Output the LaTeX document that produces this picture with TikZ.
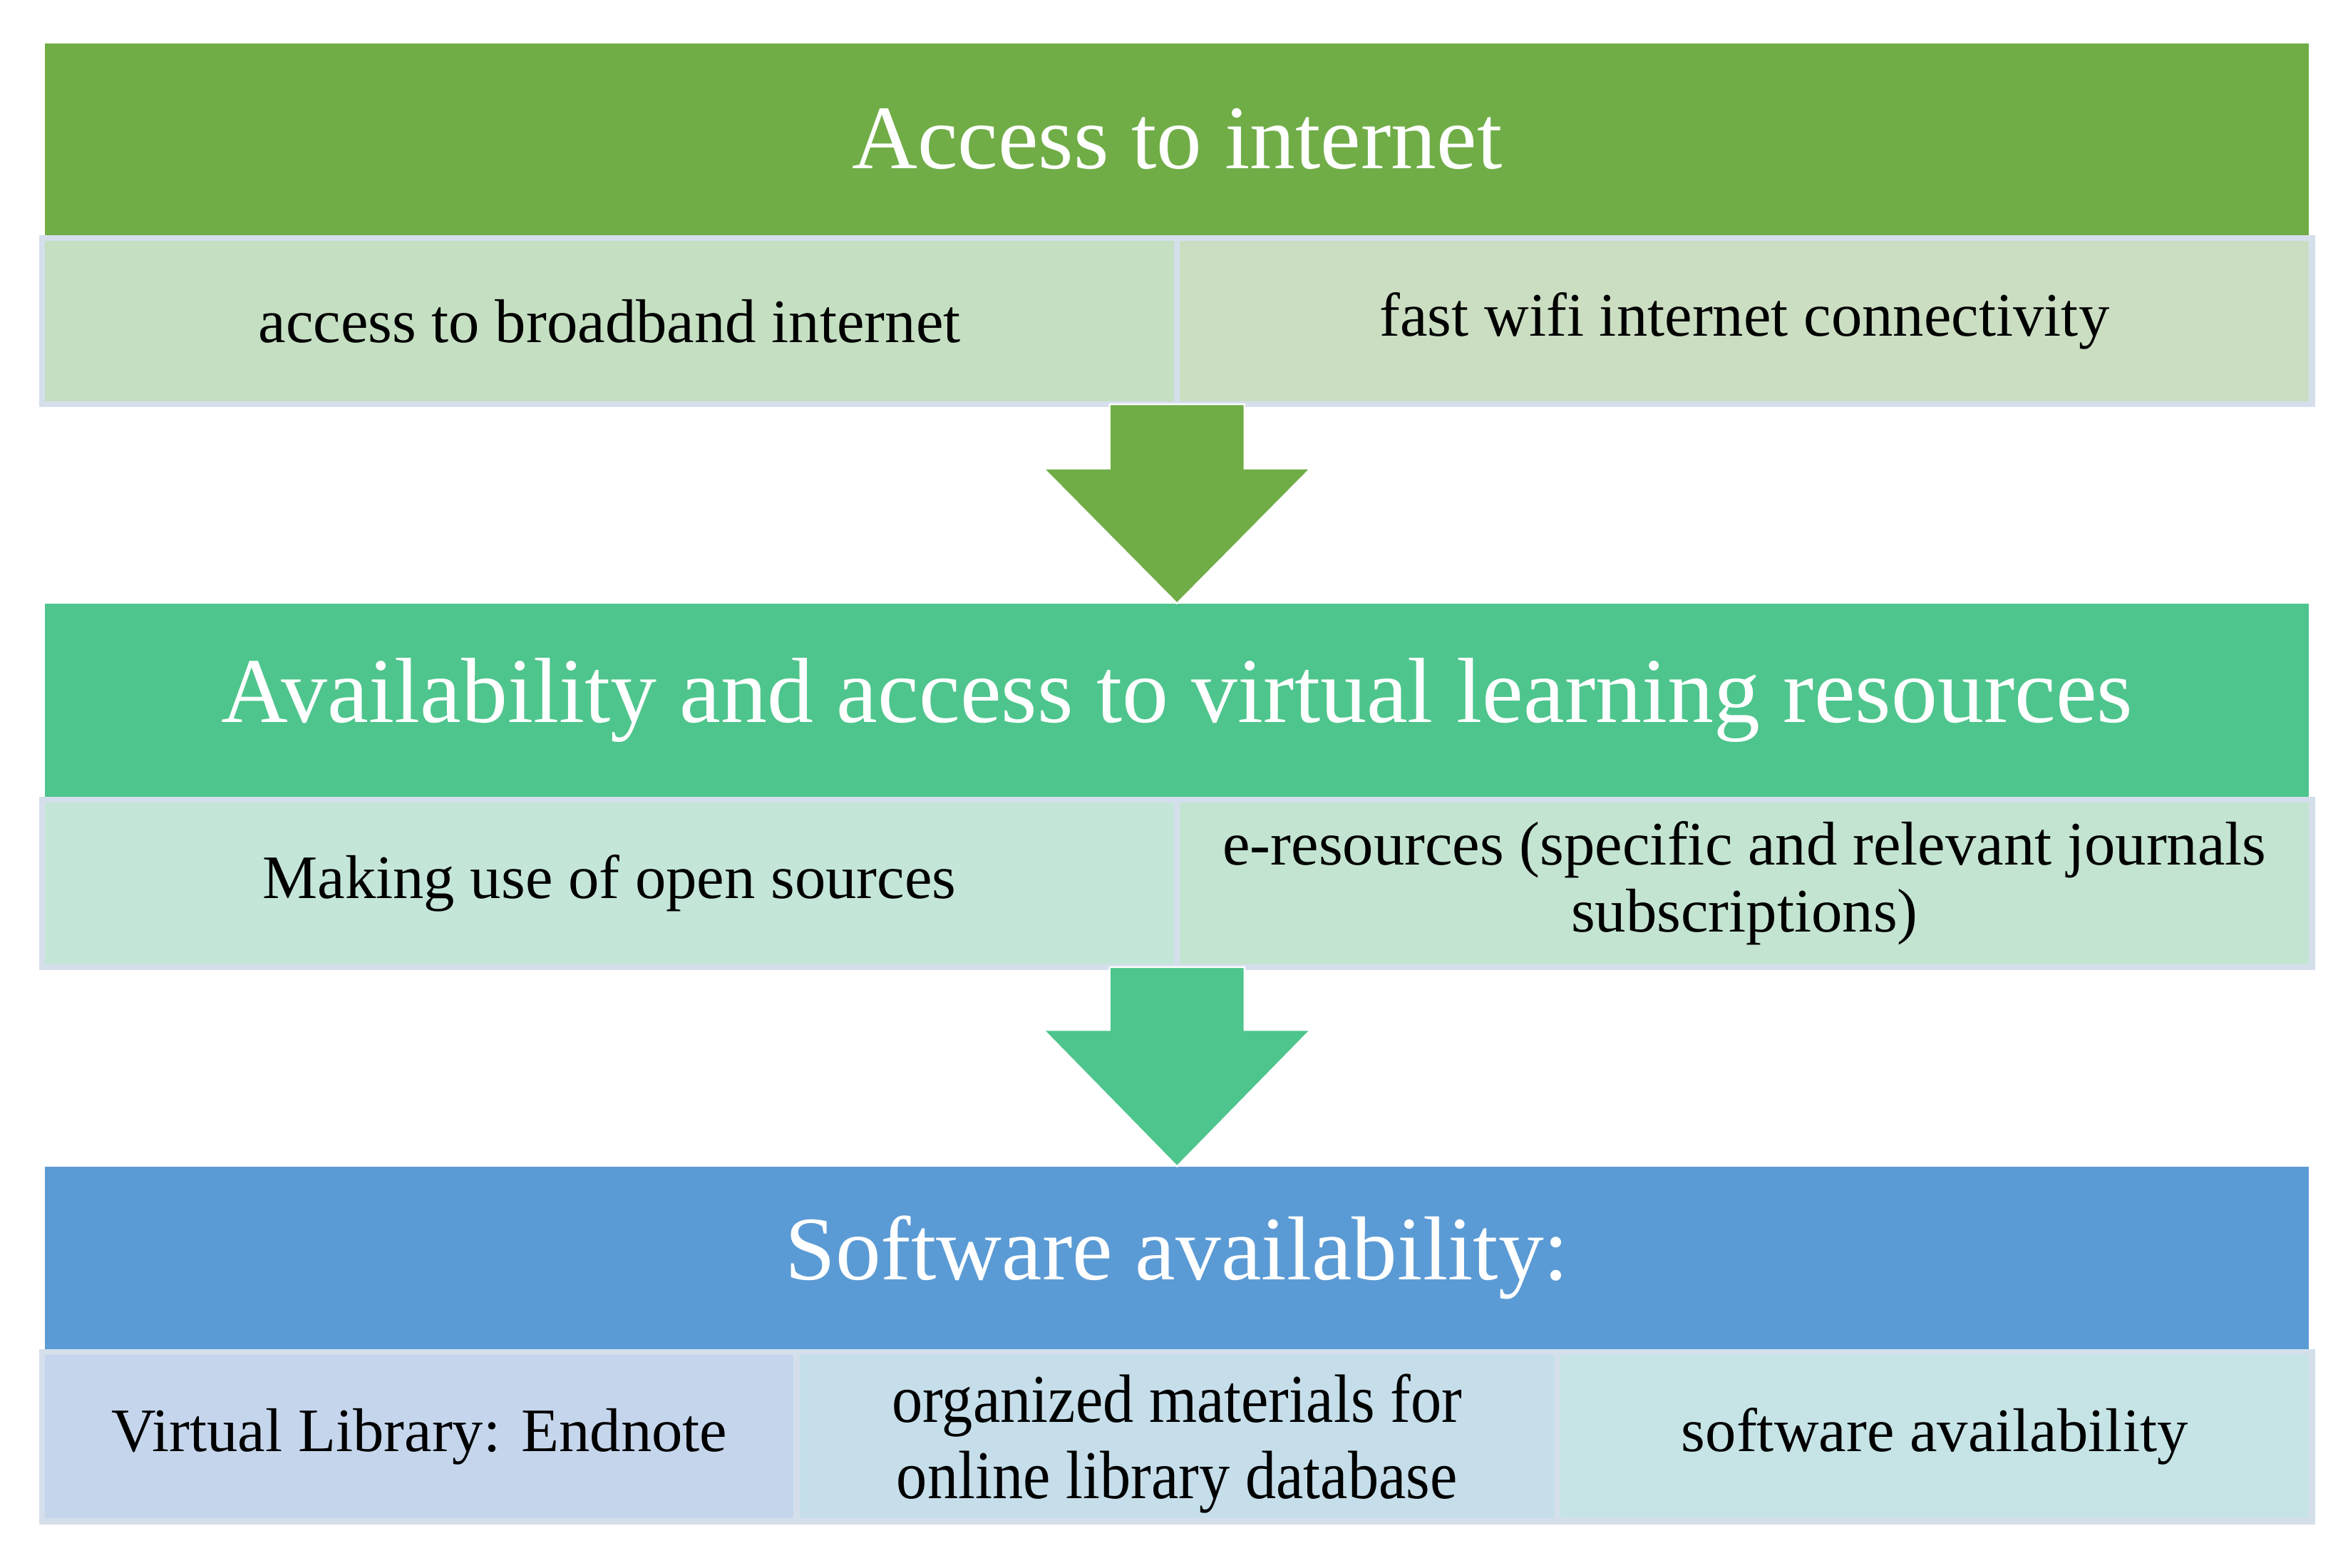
\documentclass[tikz,border=0pt]{standalone}
\usepackage{fontspec}
\setmainfont{Liberation Serif}
\usetikzlibrary{calc}
\definecolor{barA}{HTML}{70AD47}
\definecolor{barB}{HTML}{4EC58D}
\definecolor{barC}{HTML}{5B9BD5}
\definecolor{edgec}{HTML}{D5DFEC}
\definecolor{cAl}{HTML}{C5DFC2}
\definecolor{cAr}{HTML}{CBDEC2}
\definecolor{cBl}{HTML}{C4E6D9}
\definecolor{cBr}{HTML}{C3E4D1}
\definecolor{cCl}{HTML}{C5D6EC}
\definecolor{cCm}{HTML}{C5DEEA}
\definecolor{cCr}{HTML}{C6E4E6}
\tikzset{
  bar/.style={rectangle, inner sep=0pt, outer sep=0pt, minimum width=1512*0.02cm,
    minimum height=#1*0.02cm, text=white, font=\fontsize{34.5}{41}\selectfont},
  cell/.style 2 args={rectangle, inner sep=0pt, outer sep=0pt, draw=edgec,
    line width=0.08cm, minimum width=#1*0.02cm, minimum height=#2*0.02cm,
    align=center, font=\fontsize{23.5}{25.5}\selectfont},
  blockarrow/.style={draw=white, line width=0.6pt}
}
\begin{document}
\begin{tikzpicture}[x=0.02cm, y=-0.02cm]
\useasboundingbox[fill=white] (0,0) rectangle (1568,1047);
% title bars
\node[bar=128, fill=barA] (b1) at (786,93) {Access to internet};
\node[bar=129, fill=barB, font=\fontsize{35.2}{41}\selectfont] (b2) at (786,467.5) {Availability and access to virtual learning resources};
\node[bar=122, fill=barC] (b3) at (786,840) {Software availability:};
% row 1
\node[cell={758}{111}, fill=cAl] (r1l) at (407,214.5) {access to broadband internet};
\node[cell={758}{111}, fill=cAr] (r1r) at (1165,214.5) {fast wifi internet connectivity};
% row 2
\node[cell={758}{112}, fill=cBl] (r2l) at (407,590) {Making use of open sources};
\node[cell={758}{112}, fill=cBr] (r2r) at (1165,590) {e-resources (specific and relevant journals\\subscriptions)};
% row 3
\node[cell={504}{113}, fill=cCl] (r3l) at (280,959.5) {Virtual Library: Endnote};
\node[cell={508}{113}, fill=cCm] (r3m) at (786,959.5) {};
\node[inner sep=0pt] (r3mt) at (786,965) {\scalebox{0.9}[1]{\fontsize{26}{29}\selectfont\begin{tabular}{@{}c@{}}organized materials for\\online library database\end{tabular}}};
\node[cell={504}{113}, fill=cCr] (r3r) at (1292,959.5) {software availability};
% block arrows
\coordinate (a1) at (r1l.south east);
\path[blockarrow, fill=barA] ($(a1)+(-45,0)$) -- ($(a1)+(-45,43)$) -- ($(a1)+(-89,43)$)
  -- (b2.north) -- ($(a1)+(89,43)$) -- ($(a1)+(45,43)$) -- ($(a1)+(45,0)$) -- cycle;
\coordinate (a2) at (r2l.south east);
\path[blockarrow, fill=barB] ($(a2)+(-45,0)$) -- ($(a2)+(-45,42)$) -- ($(a2)+(-89,42)$)
  -- (b3.north) -- ($(a2)+(89,42)$) -- ($(a2)+(45,42)$) -- ($(a2)+(45,0)$) -- cycle;
\end{tikzpicture}
\end{document}
